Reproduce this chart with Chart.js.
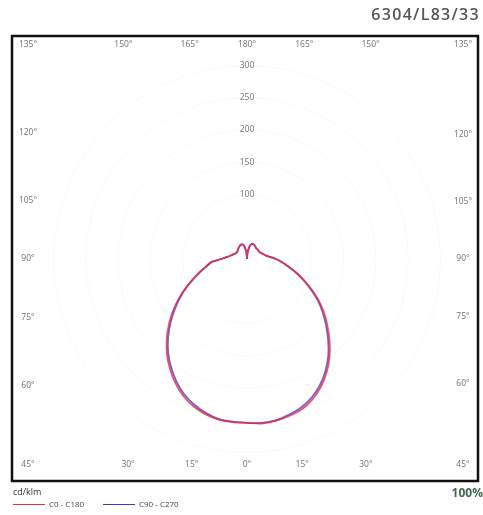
<!DOCTYPE html>
<html>
<head>
<meta charset="utf-8">
<script src="https://cdn.jsdelivr.net/npm/chart.js@4/dist/chart.umd.min.js"></script>
<style>
  body { margin: 0; background: #fff; font-family: "Open Sans", sans-serif; }
  #wrap { position: relative; width: 483px; height: 515px; }
  #c { position: absolute; left: 0; top: 0; }
  .title { position: absolute; right: 3px; top: 3px; font-size: 16px; font-weight: 600; letter-spacing: 1.3px; color: #555; }
  .unit { position: absolute; left: 13px; top: 485px; font-size: 9px; color: #333; }
  .key { position: absolute; top: 504px; height: 1px; width: 32px; }
  .ktxt { position: absolute; top: 498px; font-size: 8px; color: #444; }
  .pct { position: absolute; right: 0; top: 484px; font-size: 12px; font-weight: bold; color: #3d6b4a; }
</style>
</head>
<body>
<div id="wrap">
  <canvas id="c" width="483" height="515"></canvas>
  <div class="title">6304/L83/33</div>
  <div class="unit">cd/klm</div>
  <div class="key" style="left:13px;background:#e8303a"></div>
  <div class="ktxt" style="left:49px">C0 - C180</div>
  <div class="key" style="left:103px;background:#3a3ac8"></div>
  <div class="ktxt" style="left:139px">C90 - C270</div>
  <div class="pct">100%</div>
</div>
<script>
// gamma angles (0 = nadir), cd/klm
const angles = [0,5,10,15,20,25,30,35,40,45,50,55,60,65,70,75,80,85,90,95,100,105,110,115,120,125,130,135,140,145,150,155,160,165,170,175,180];
const c0   = [256,256,255,252,248,240,229,215,199,181,163,146,128,110,93,78,65,54,45,36,30,27,25,23,22,22,22,22,22,23,24,25,25,23,18,9,0];
const c180 = [254,254,253,249,243,234,222,208,193,176,158,140,122,104,88,75,64,56,40,32,27,24,22,20,19,19,19,20,21,22,23,24,24,23,18,9,0];
const c90  = [256,255,254,250,245,237,226,212,196,178,160,143,126,108,92,77,64,54,45,36,30,27,25,23,22,22,22,22,22,23,24,25,25,23,18,9,0];
const c270 = [254,253,252,247,240,231,219,205,190,173,155,137,120,103,87,74,63,55,40,32,27,24,22,20,19,19,19,20,21,22,23,24,24,23,18,9,0];
const radialTicks = [100,150,200,250,300];
const angleTicks = [0,15,30,45,60,75,90,105,120,135,150,165,180];

const rad = d => d * Math.PI / 180;

// left half goes 180 -> 0, right half 0 -> 180
function polar(left, right) {
  const pts = [];
  for (let i = angles.length - 1; i >= 0; i--) {
    pts.push({ x: -left[i] * Math.sin(rad(angles[i])), y: -left[i] * Math.cos(rad(angles[i])) });
  }
  for (let i = 1; i < angles.length; i++) {
    pts.push({ x: right[i] * Math.sin(rad(angles[i])), y: -right[i] * Math.cos(rad(angles[i])) });
  }
  return pts;
}

// faint grid, frame and labels
const polarFrame = {
  id: 'polarFrame',
  beforeDatasetsDraw(chart) {
    const { ctx, chartArea: a, scales: { x, y } } = chart;
    const cx = x.getPixelForValue(0), cy = y.getPixelForValue(0);
    const k = x.getPixelForValue(100) - cx;
    ctx.save();
    ctx.beginPath();
    ctx.rect(a.left, a.top, a.right - a.left, a.bottom - a.top);
    ctx.clip();
    ctx.strokeStyle = '#f9f9f9';
    ctx.lineWidth = 1;
    radialTicks.forEach(v => {
      ctx.beginPath();
      ctx.arc(cx, cy, v * k / 100, 0, Math.PI * 2);
      ctx.stroke();
    });
    ctx.restore();

    ctx.save();
    ctx.fillStyle = '#707070';
    ctx.font = '8.5px "Open Sans"';
    ctx.textAlign = 'center';
    ctx.textBaseline = 'middle';
    radialTicks.forEach(v => {
      ctx.fillText(String(v), cx, y.getPixelForValue(v));
    });
    // angle labels sit on an inset box
    const L = a.left + 16, R = a.right - 15, T = a.top + 9, B = a.bottom - 16;
    angleTicks.forEach(g => {
      [-1, 1].forEach(side => {
        if ((g === 0 || g === 180) && side === 1) return;
        const dx = side * Math.sin(rad(g)), dy = Math.cos(rad(g));
        let px, py;
        if (g === 45 || g === 135) {
          px = side < 0 ? L : R;
          py = g === 45 ? B : T;
        } else {
          let t = Infinity;
          if (dx < -1e-6) t = Math.min(t, (L - cx) / dx);
          if (dx > 1e-6) t = Math.min(t, (R - cx) / dx);
          if (dy > 1e-6) t = Math.min(t, (B - cy) / dy);
          if (dy < -1e-6) t = Math.min(t, (T - cy) / dy);
          px = cx + dx * t;
          py = cy + dy * t;
        }
        ctx.fillText(g + '°', px, py);
      });
    });
    ctx.restore();
  },
  afterDraw(chart) {
    const { ctx, chartArea: a } = chart;
    ctx.save();
    ctx.strokeStyle = '#111';
    ctx.lineWidth = 2.5;
    ctx.strokeRect(a.left, a.top, a.right - a.left, a.bottom - a.top);
    ctx.restore();
  }
};

// pole at (247, 259) px, 0.645 px per cd/klm
const pxPer = 0.645;
new Chart(document.getElementById('c'), {
  type: 'scatter',
  data: {
    datasets: [
      { label: 'C0 - C180', data: polar(c180, c0), borderColor: 'rgba(228,40,70,0.8)', borderWidth: 1.8, showLine: true, pointRadius: 0, tension: 0.25 },
      { label: 'C90 - C270', data: polar(c270, c90), borderColor: 'rgba(70,50,190,0.75)', borderWidth: 1.8, showLine: true, pointRadius: 0, tension: 0.25 }
    ]
  },
  options: {
    responsive: false,
    animation: false,
    layout: { padding: { left: 12, right: 5, top: 36, bottom: 34 } },
    plugins: { legend: { display: false }, tooltip: { enabled: false } },
    scales: {
      x: { display: false, min: -(247 - 12) / pxPer, max: (478 - 247) / pxPer },
      y: { display: false, min: -(481 - 259) / pxPer, max: (259 - 36) / pxPer }
    }
  },
  plugins: [polarFrame]
});
</script>
</body>
</html>
